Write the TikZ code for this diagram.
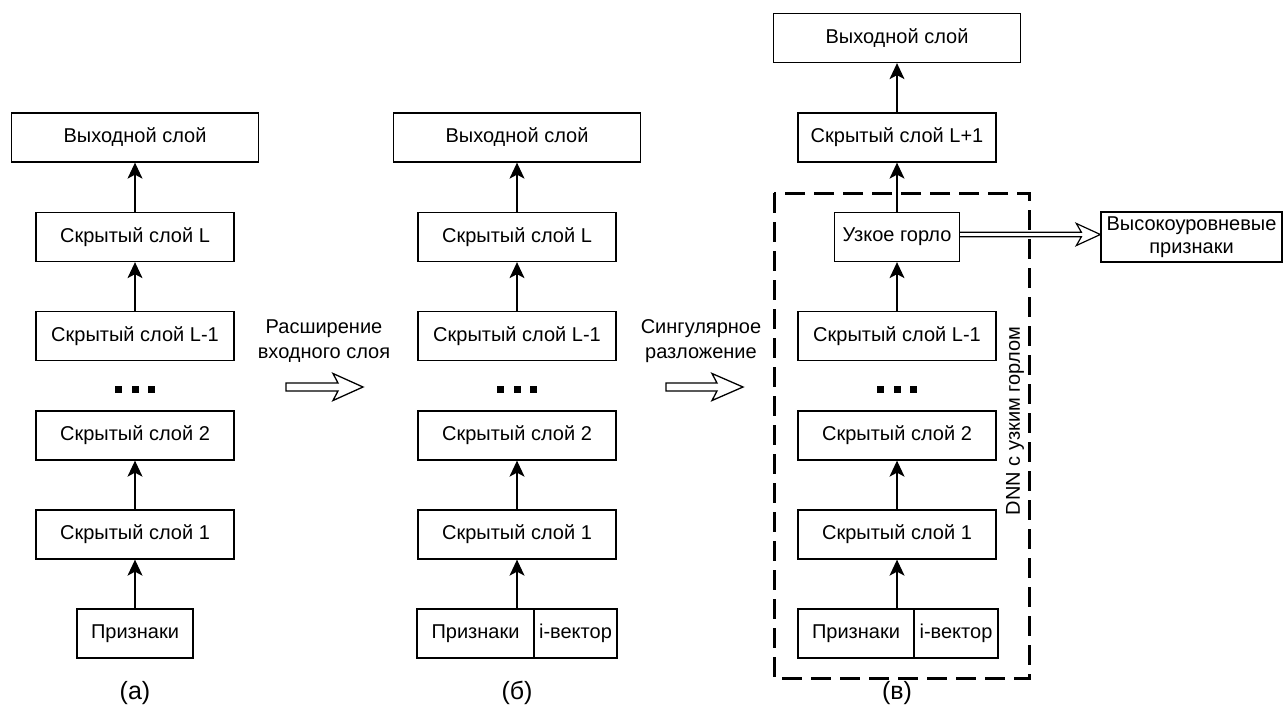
\documentclass[tikz,border=0pt]{standalone}
\usepackage{fontspec}
\setmainfont{Liberation Sans}
\usetikzlibrary{arrows.meta,calc}
\begin{document}
\begin{tikzpicture}[x=1pt,y=-1pt,
  font=\fontsize{20}{25}\selectfont,
  box/.style={draw,line width=1.3pt,inner sep=0pt,minimum height=49pt},
  outbox/.style={box,minimum width=247pt},
  hidbox/.style={box,minimum width=198pt},
  conn/.style={line width=1.3pt,-{Stealth[length=16pt,width=15pt,inset=4pt]}},
  hollow/.style={draw,line width=1.3pt,fill=white,line join=miter},
  lbl/.style={align=center,inner sep=0pt},
  caption/.style={font=\fontsize{25}{30}\selectfont},
  dashbox/.style={line width=3pt,dash pattern=on 20pt off 9pt}
]
\useasboundingbox (0,0) rectangle (1284,709);

% dashed frame
\draw[dashbox] (774,193) rectangle (1029.5,678);

% column (a)
\node[outbox] (oa) at (135,137.5) {Выходной слой};
\node[hidbox] (la) at (135,237) {Скрытый слой L};
\node[hidbox] (lma) at (135,336) {Скрытый слой L-1};
\node[hidbox] (h2a) at (135,435.5) {Скрытый слой 2};
\node[hidbox] (h1a) at (135,534.5) {Скрытый слой 1};
\node[box,minimum width=116pt] (pa) at (135,633.5) {Признаки};
\draw[conn] (la.north) -- (oa.south);
\draw[conn] (lma.north) -- (la.south);
\draw[conn] (h1a.north) -- (h2a.south);
\draw[conn] (pa.north) -- (h1a.south);

% column (b)
\node[outbox] (ob) at (517,137.5) {Выходной слой};
\node[hidbox] (lb) at (517,237) {Скрытый слой L};
\node[hidbox] (lmb) at (517,336) {Скрытый слой L-1};
\node[hidbox] (h2b) at (517,435.5) {Скрытый слой 2};
\node[hidbox] (h1b) at (517,534.5) {Скрытый слой 1};
\node[box,minimum width=117pt] (pb) at (475.5,633.5) {Признаки};
\node[box,minimum width=83pt] (ib) at (575.5,633.5) {i-вектор};
\coordinate (tb) at (h1b |- pb.north);
\draw[conn] (lb.north) -- (ob.south);
\draw[conn] (lmb.north) -- (lb.south);
\draw[conn] (h1b.north) -- (h2b.south);
\draw[conn] (tb) -- (h1b.south);

% column (c)
\node[outbox] (oc) at (897,38) {Выходной слой};
\node[hidbox] (lpc) at (897,137.5) {Скрытый слой L+1};
\node[box,minimum width=125pt,fill=white] (uc) at (897,237) {Узкое горло};
\node[hidbox] (lmc) at (897,336) {Скрытый слой L-1};
\node[hidbox] (h2c) at (897,435.5) {Скрытый слой 2};
\node[hidbox] (h1c) at (897,534.5) {Скрытый слой 1};
\node[box,minimum width=116pt] (pc) at (856,633.5) {Признаки};
\node[box,minimum width=84pt] (ic) at (956,633.5) {i-вектор};
\coordinate (tc) at (h1c |- pc.north);
\draw[conn] (lpc.north) -- (oc.south);
\draw[conn] (uc.north) -- (lpc.south);
\draw[conn] (lmc.north) -- (uc.south);
\draw[conn] (h1c.north) -- (h2c.south);
\draw[conn] (tc) -- (h1c.south);
\node[rotate=90,inner sep=0pt] (dnn) at (1015,421) {DNN с узким горлом};

% high-level features
\node[box,minimum width=181pt,minimum height=50pt,align=center,font=\fontsize{20}{23.5}\selectfont] (hl) at (1191.5,237) {Высокоуровневые\\признаки};
\coordinate (dt) at ($(hl.west)+(0,-2.5)$);
\coordinate (ds) at ($(uc.east)+(0,-2.5)$);
\draw[line width=1.2pt,line join=miter] ($(ds)+(0,-2.3)$) -- ($(dt)+(-19,-2.3)$) -- ($(dt)+(-24,-11)$) -- (dt) -- ($(dt)+(-24,11)$) -- ($(dt)+(-19,2.3)$) -- ($(ds)+(0,2.3)$);

% dots
\foreach \cx in {135,517,897}{
  \foreach \dx in {-16.5,0,16.5}{
    \fill (\cx+\dx-3.5,385.5) rectangle ++(7,7);
  }
}

% transformation arrows
\draw[hollow] (286,383) -- (338,383) -- (333,373.5) -- (363,387) -- (333,400.5) -- (338,391) -- (286,391) -- cycle;
\draw[hollow] (666,383) -- (717,383) -- (712,373.5) -- (743,387) -- (712,400.5) -- (717,391) -- (666,391) -- cycle;
\node[lbl] (t1) at (324,341.5) {Расширение\\входного слоя};
\node[lbl] (t2) at (701,341.5) {Сингулярное\\разложение};

% captions
\node[caption] (ca) at (135,693) {(а)};
\node[caption] (cb) at (517,693) {(б)};
\node[caption] (cc) at (897,693) {(в)};
\end{tikzpicture}
\end{document}
